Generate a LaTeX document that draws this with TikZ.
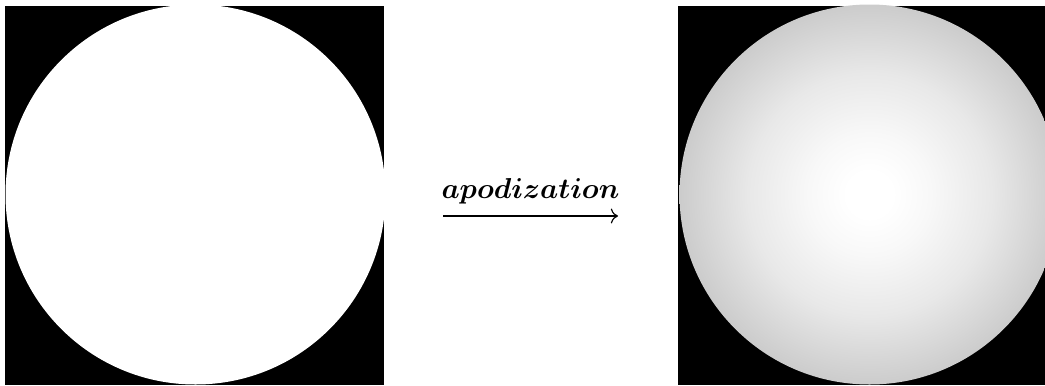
\documentclass[tikz,border=0pt]{standalone}
\definecolor{rim}{HTML}{BCBCBC}
\definecolor{midgray}{HTML}{E8E8E8}
\definecolor{nearwhite}{HTML}{F8F8F8}
\usetikzlibrary{arrows.meta}
\pgfdeclareradialshading{apod}{\pgfpoint{0bp}{0bp}}{color(0bp)=(white); color(3bp)=(white); color(8bp)=(nearwhite); color(16bp)=(midgray); color(30bp)=(rim); color(50bp)=(rim)}
\tikzset{
  frame/.style={fill=black},
  flatdisc/.style={fill=white},
  apoddisc/.style={shading=apod},
  arr/.style={-{To},line width=0.4pt},
  lbl/.style={font=\boldmath,inner sep=2pt,yshift=2pt}
}
\begin{document}
\begin{tikzpicture}[x=0.0122cm,y=-0.0122cm]
    \useasboundingbox (0,0) rectangle (1045,385);
    \clip (0,0) rectangle (1045,385);
    % flat pupil
    \fill[frame] (5,6) rectangle (384,385);
    \fill[flatdisc] (195.5,194.5) circle [radius=190];
    % apodized pupil
    \fill[frame] (678,6) rectangle (1045,385);
    \shade[apoddisc] (869.5,194.5) circle [radius=190];
    \coordinate (from) at (443,216);
    \coordinate (to) at (618,216);
    \draw[arr] (from) -- node[lbl,above] (name) {$apodization$} (to);
  \end{tikzpicture}
\end{document}
